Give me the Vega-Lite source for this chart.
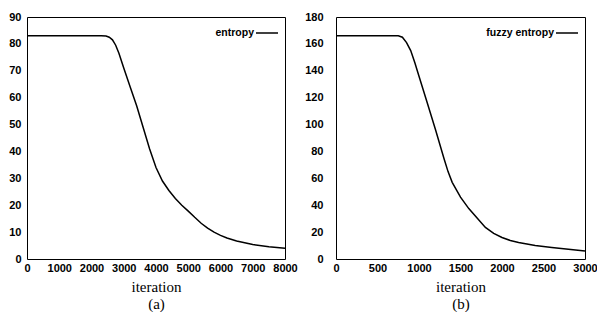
{
  "$schema": "https://vega.github.io/schema/vega-lite/v6.json",
  "background": "white",
  "padding": {"left": 8, "top": 10, "right": 0, "bottom": 0},
  "bounds": "flush",
  "spacing": 51,
  "datasets": {
    "a": [
      {"iteration": 0, "entropy": 83}, {"iteration": 500, "entropy": 83}, {"iteration": 1000, "entropy": 83},
      {"iteration": 1500, "entropy": 83}, {"iteration": 2000, "entropy": 83}, {"iteration": 2300, "entropy": 83},
      {"iteration": 2450, "entropy": 82.9}, {"iteration": 2550, "entropy": 82.5}, {"iteration": 2650, "entropy": 81.5},
      {"iteration": 2750, "entropy": 79.5}, {"iteration": 2850, "entropy": 76.5}, {"iteration": 3000, "entropy": 71},
      {"iteration": 3200, "entropy": 64}, {"iteration": 3400, "entropy": 57}, {"iteration": 3600, "entropy": 49},
      {"iteration": 3800, "entropy": 41}, {"iteration": 4000, "entropy": 34}, {"iteration": 4200, "entropy": 29},
      {"iteration": 4400, "entropy": 25.5}, {"iteration": 4600, "entropy": 22.5}, {"iteration": 4800, "entropy": 20},
      {"iteration": 5000, "entropy": 17.8}, {"iteration": 5200, "entropy": 15.5}, {"iteration": 5400, "entropy": 13.3},
      {"iteration": 5600, "entropy": 11.5}, {"iteration": 5800, "entropy": 10}, {"iteration": 6000, "entropy": 8.8},
      {"iteration": 6200, "entropy": 7.8}, {"iteration": 6500, "entropy": 6.7}, {"iteration": 7000, "entropy": 5.4},
      {"iteration": 7500, "entropy": 4.6}, {"iteration": 8000, "entropy": 4.0}
    ],
    "b": [
      {"iteration": 0, "entropy": 166}, {"iteration": 300, "entropy": 166}, {"iteration": 600, "entropy": 166},
      {"iteration": 750, "entropy": 166}, {"iteration": 800, "entropy": 165}, {"iteration": 850, "entropy": 161},
      {"iteration": 900, "entropy": 155}, {"iteration": 950, "entropy": 146}, {"iteration": 1000, "entropy": 136},
      {"iteration": 1100, "entropy": 116}, {"iteration": 1200, "entropy": 96}, {"iteration": 1300, "entropy": 75},
      {"iteration": 1350, "entropy": 65}, {"iteration": 1400, "entropy": 57}, {"iteration": 1500, "entropy": 46},
      {"iteration": 1600, "entropy": 37.5}, {"iteration": 1700, "entropy": 30.5}, {"iteration": 1800, "entropy": 23.5},
      {"iteration": 1900, "entropy": 19}, {"iteration": 2000, "entropy": 16}, {"iteration": 2100, "entropy": 13.8},
      {"iteration": 2200, "entropy": 12.2}, {"iteration": 2400, "entropy": 10}, {"iteration": 2600, "entropy": 8.6},
      {"iteration": 2800, "entropy": 7.3}, {"iteration": 3000, "entropy": 6}
    ]
  },
  "config": {
    "view": {"stroke": "black", "strokeWidth": 1},
    "axis": {
      "domain": false, "ticks": false, "grid": false, "format": "d",
      "labelFont": "Liberation Sans", "labelFontSize": 11, "labelFontWeight": "bold", "labelColor": "black",
      "titleFont": "Liberation Serif", "titleFontSize": 15, "titleFontWeight": "normal", "titleColor": "black"
    },
    "axisX": {"labelPadding": 3, "titlePadding": 6, "titleLineHeight": 17, "labelFlush": false},
    "axisY": {"title": null, "labelPadding": 6},
    "legend": {
      "orient": "top-right", "offset": 4, "title": null,
      "symbolType": "stroke", "symbolSize": 484, "symbolStrokeWidth": 1.5, "symbolStrokeColor": "black",
      "labelFont": "Liberation Sans", "labelFontSize": 10.5, "labelFontWeight": "bold", "labelColor": "black",
      "labelAlign": "right", "labelOffset": -25
    }
  },
  "resolve": {"scale": {"color": "independent"}},
  "hconcat": [
    {
      "width": 258, "height": 242,
      "data": {"name": "a"},
      "mark": {"type": "line", "strokeWidth": 1.5, "color": "black"},
      "encoding": {
        "x": {"field": "iteration", "type": "quantitative",
              "scale": {"domain": [0, 8000], "nice": false},
              "axis": {"values": [0,1000,2000,3000,4000,5000,6000,7000,8000], "title": ["iteration", "(a)"]}},
        "y": {"field": "entropy", "type": "quantitative",
              "scale": {"domain": [0, 90], "nice": false},
              "axis": {"values": [0,10,20,30,40,50,60,70,80,90]}},
        "color": {"datum": "entropy", "scale": {"range": ["black"]}}
      }
    },
    {
      "width": 249, "height": 242,
      "data": {"name": "b"},
      "mark": {"type": "line", "strokeWidth": 1.5, "color": "black"},
      "encoding": {
        "x": {"field": "iteration", "type": "quantitative",
              "scale": {"domain": [0, 3000], "nice": false},
              "axis": {"values": [0,500,1000,1500,2000,2500,3000], "title": ["iteration", "(b)"]}},
        "y": {"field": "entropy", "type": "quantitative",
              "scale": {"domain": [0, 180], "nice": false},
              "axis": {"values": [0,20,40,60,80,100,120,140,160,180], "labelPadding": 13}},
        "color": {"datum": "fuzzy entropy", "scale": {"range": ["black"]}}
      }
    }
  ]
}
